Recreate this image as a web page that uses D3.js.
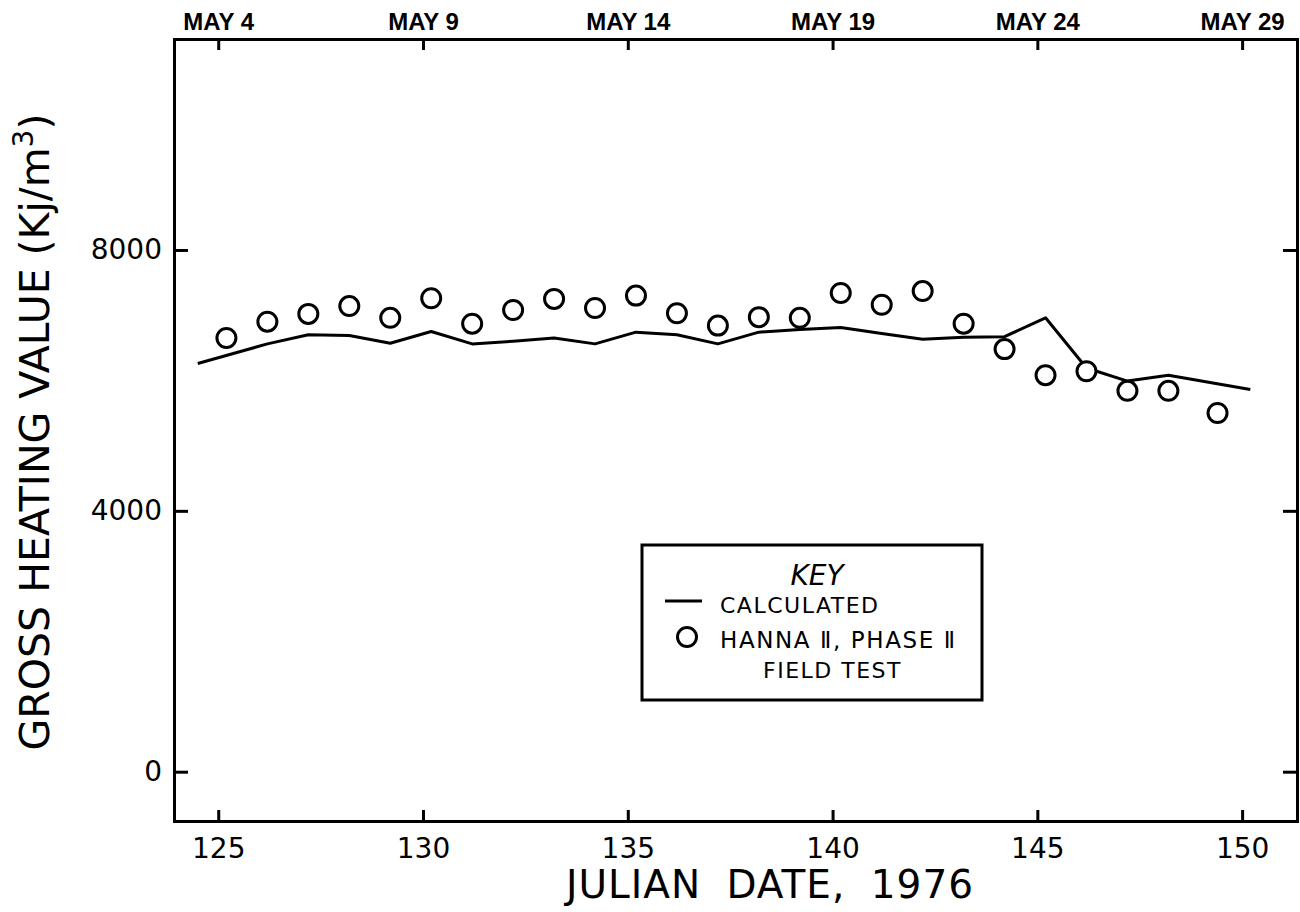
<!DOCTYPE html>
<html>
<head>
<meta charset="utf-8">
<script src="https://cdn.jsdelivr.net/npm/d3@7"></script>
<style>
  body { margin: 0; background: #fff; }
  svg text { fill: #000; }
</style>
</head>
<body>
<svg id="chart" width="1300" height="912"></svg>
<script>
// Axis ticks
const julianTicks = [125, 130, 135, 140, 145, 150];
const dateLabels = ["MAY 4", "MAY 9", "MAY 14", "MAY 19", "MAY 24", "MAY 29"];
const valueTicks = [0, 4000, 8000];

// Hanna II, Phase II field test: gross heating value (kJ/m3) by Julian date
const fieldDays = [125.2, 126.2, 127.2, 128.2, 129.2, 130.2, 131.2, 132.2, 133.2, 134.2,
                   135.2, 136.2, 137.2, 138.2, 139.2, 140.2, 141.2, 142.2, 143.2, 144.2,
                   145.2, 146.2, 147.2, 148.2, 149.4];
const fieldValues = [6650, 6900, 7020, 7140, 6960, 7260, 6870, 7080, 7250, 7110,
                     7300, 7030, 6840, 6970, 6960, 7340, 7160, 7370, 6870, 6480,
                     6080, 6140, 5840, 5840, 5500];

// Calculated gross heating value
const calcDays = [124.5, 126.2, 127.2, 128.2, 129.2, 130.2, 131.2, 132.2, 133.2, 134.2,
                  135.2, 136.2, 137.2, 138.2, 139.2, 140.2, 141.2, 142.2, 143.2, 144.2,
                  145.2, 146.2, 147.2, 148.2, 150.2];
const calcValues = [6260, 6560, 6700, 6690, 6570, 6750, 6560, 6600, 6650, 6560,
                    6740, 6700, 6560, 6740, 6780, 6810, 6720, 6630, 6660, 6670,
                    6960, 6190, 5990, 6080, 5860];

const W = 1300, H = 912;
const margin = { top: 39, right: 3, bottom: 91, left: 174 };
const svg = d3.select("#chart");

const x = d3.scaleLinear()
  .domain([123.92, 151.34])
  .range([margin.left, W - margin.right]);
const y = d3.scaleLinear()
  .domain([-756, 11235])
  .range([H - margin.bottom, margin.top]);

const FONT = "'DejaVu Sans', sans-serif";

function styleAxis(g) {
  g.select(".domain").attr("stroke", "#000").attr("stroke-width", 3).attr("stroke-linecap", "square");
  g.selectAll(".tick line").attr("stroke", "#000").attr("stroke-width", 3);
  g.selectAll("text").attr("fill", "#000");
}

// Bottom axis: Julian date
svg.append("g")
  .attr("transform", `translate(0,${H - margin.bottom})`)
  .call(d3.axisBottom(x).tickValues(julianTicks).tickSizeInner(-11).tickSizeOuter(0).tickPadding(17))
  .call(styleAxis)
  .call(g => g.selectAll("text").attr("font-family", FONT).attr("font-size", 28));

// Top axis: calendar dates
svg.append("g")
  .attr("transform", `translate(0,${margin.top})`)
  .call(d3.axisTop(x).tickValues(julianTicks).tickSizeInner(-11).tickSizeOuter(0).tickPadding(9)
    .tickFormat((d, i) => dateLabels[i]))
  .call(styleAxis)
  .call(g => g.selectAll("text").attr("font-family", "'Liberation Sans', Arial, sans-serif")
    .attr("font-weight", "bold").attr("font-size", 24));

// Left axis: heating value
svg.append("g")
  .attr("transform", `translate(${margin.left},0)`)
  .call(d3.axisLeft(y).tickValues(valueTicks).tickSizeInner(-14).tickSizeOuter(0).tickPadding(12)
    .tickFormat(d3.format("d")))
  .call(styleAxis)
  .call(g => g.selectAll("text").attr("font-family", FONT).attr("font-size", 28));

// Right axis: tick marks only
svg.append("g")
  .attr("transform", `translate(${W - margin.right},0)`)
  .call(d3.axisRight(y).tickValues(valueTicks).tickSizeInner(-14).tickSizeOuter(0).tickFormat(""))
  .call(styleAxis);

// Calculated curve
const line = d3.line()
  .x((d, i) => x(calcDays[i]))
  .y(d => y(d));
svg.append("path")
  .datum(calcValues)
  .attr("fill", "none")
  .attr("stroke", "#000")
  .attr("stroke-width", 3)
  .attr("stroke-linejoin", "round")
  .attr("d", line);

// Field test measurements
svg.append("g")
  .selectAll("circle")
  .data(fieldValues)
  .join("circle")
  .attr("cx", (d, i) => x(fieldDays[i]))
  .attr("cy", d => y(d))
  .attr("r", 9.5)
  .attr("fill", "#fff")
  .attr("stroke", "#000")
  .attr("stroke-width", 3);

// Axis titles
svg.append("text")
  .attr("x", 770).attr("y", 898)
  .attr("text-anchor", "middle")
  .attr("font-family", FONT).attr("font-size", 39)
  .attr("letter-spacing", 1)
  .attr("word-spacing", 12)
  .text("JULIAN DATE, 1976");

const yTitle = svg.append("text")
  .attr("transform", "translate(49,432) rotate(-90)")
  .attr("text-anchor", "middle")
  .attr("font-family", FONT).attr("font-size", 41);
yTitle.append("tspan").text("GROSS HEATING VALUE (Kj/m");
yTitle.append("tspan").attr("dy", -16).attr("font-size", 28).text("3");
yTitle.append("tspan").attr("dy", 16).text(")");

// Key
const key = svg.append("g").attr("font-family", FONT);
key.append("rect")
  .attr("x", 642).attr("y", 545).attr("width", 340).attr("height", 155)
  .attr("fill", "#fff").attr("stroke", "#000").attr("stroke-width", 3);
key.append("text")
  .attr("x", 817).attr("y", 585).attr("text-anchor", "middle")
  .attr("font-size", 28).attr("font-style", "italic")
  .text("KEY");
key.append("line")
  .attr("x1", 665).attr("x2", 702).attr("y1", 601).attr("y2", 601)
  .attr("stroke", "#000").attr("stroke-width", 3);
key.append("text")
  .attr("x", 720).attr("y", 613).attr("font-size", 22).attr("letter-spacing", 1.5)
  .text("CALCULATED");
key.append("circle")
  .attr("cx", 687).attr("cy", 637).attr("r", 9.5)
  .attr("fill", "#fff").attr("stroke", "#000").attr("stroke-width", 3);
key.append("text")
  .attr("x", 720).attr("y", 648).attr("font-size", 23).attr("letter-spacing", 1.6)
  .text("HANNA Ⅱ, PHASE Ⅱ");
key.append("text")
  .attr("x", 763).attr("y", 678).attr("font-size", 22).attr("letter-spacing", 1.5)
  .text("FIELD TEST");
</script>
</body>
</html>
